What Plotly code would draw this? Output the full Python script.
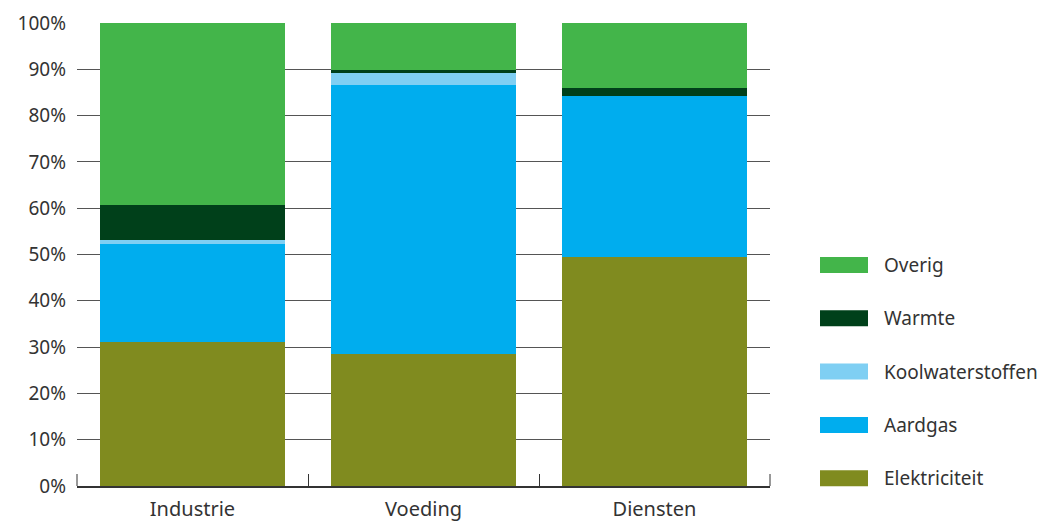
import plotly.graph_objects as go

categories = ["Industrie", "Voeding", "Diensten"]
series_names = ["Elektriciteit", "Aardgas", "Koolwaterstoffen", "Warmte", "Overig"]
elektriciteit = [31.2, 28.5, 49.5]
aardgas = [21.1, 58.1, 34.8]
koolwaterstoffen = [0.8, 2.7, 0.0]
warmte = [7.6, 0.5, 1.7]
overig = [39.3, 10.2, 14.0]
colors = ["#808B1F", "#00ADEE", "#7FCFF3", "#00401A", "#43B54A"]
y_ticks = [0, 10, 20, 30, 40, 50, 60, 70, 80, 90, 100]

values = [elektriciteit, aardgas, koolwaterstoffen, warmte, overig]

FONT = "Noto Sans"
TXT = "#333333"

fig = go.Figure()
for name, vals, col in zip(series_names, values, colors):
    fig.add_trace(go.Bar(x=categories, y=vals, name=name,
                         marker=dict(color=col, line=dict(width=0)),
                         showlegend=False, hoverinfo="x+y+name"))

# page is offset by the default 8px body margin; compensate in the figure margins
W, H = 1063, 524
OFF = 8
PL, PR, PT, PB = 77, 770, 23, 486          # target plot box in page pixels
pw, ph = PR - PL, PB - PT
def px_x(px):
    return (px - PL) / pw
def px_y(py):
    return (PB - py) / ph

shapes = []
annotations = []
for i, (name, col) in enumerate(reversed(list(zip(series_names, colors)))):
    cy = 265 + i * 53.3
    shapes.append(dict(type="rect", xref="paper", yref="paper",
                       x0=px_x(820), x1=px_x(868), y0=px_y(cy + 8), y1=px_y(cy - 8),
                       fillcolor=col, line=dict(width=0)))
    annotations.append(dict(xref="paper", yref="paper", x=px_x(882), y=px_y(cy),
                            text=name, showarrow=False, xanchor="left", yanchor="middle",
                            font=dict(family=FONT, size=19, color=TXT)))

# outer boundary ticks of the category axis
for edge in (0.0, 1.0):
    shapes.append(dict(type="line", xref="paper", yref="paper", x0=edge, x1=edge,
                       y0=0, y1=12 / ph, line=dict(color="#333333", width=1)))

fig.update_layout(
    width=W, height=H,
    margin=dict(l=PL - OFF, r=W - (PR - OFF), t=PT - OFF, b=H - (PB - OFF), autoexpand=False),
    barmode="stack", bargap=0.2,
    plot_bgcolor="white", paper_bgcolor="white",
    font=dict(family=FONT, size=19, color=TXT),
    shapes=shapes, annotations=annotations,
    xaxis=dict(range=[-0.5, 2.5], showline=True, linecolor="#333333", linewidth=1.5,
               ticks="inside", tickson="boundaries", ticklen=12, tickcolor="#333333",
               tickwidth=1, showgrid=False, ticklabelstandoff=4,
               tickfont=dict(size=20), automargin=False),
    yaxis=dict(range=[0, 100], tickvals=y_ticks, ticktext=[f"{v}%" for v in y_ticks],
               showgrid=True, gridcolor="#555555", gridwidth=1, zeroline=False,
               showline=False, ticks="", ticklabelstandoff=10,
               tickfont=dict(size=19), automargin=False),
)
fig.update_layout(xaxis_layer="above traces", yaxis_layer="below traces")

fig.write_html("out.html")
